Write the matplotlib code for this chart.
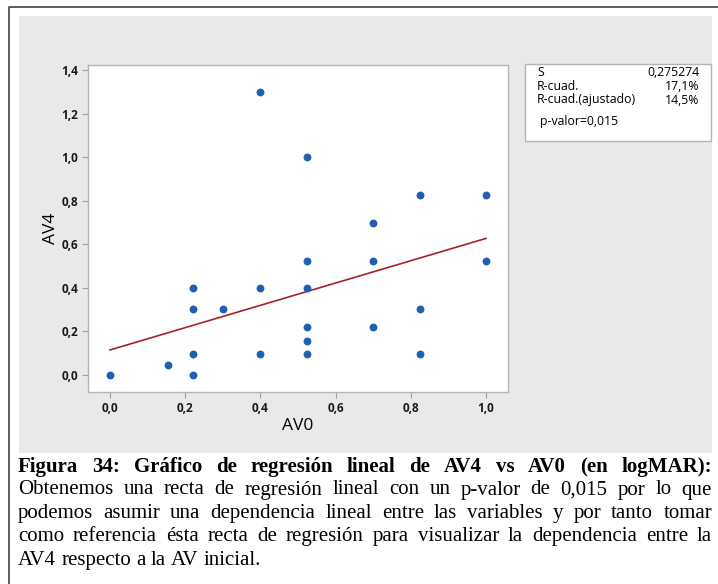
import numpy as np
import matplotlib.pyplot as plt
from matplotlib.patches import Rectangle
from matplotlib.lines import Line2D
from matplotlib.ticker import FuncFormatter

# puntos (AV0, AV4) en logMAR
av0 = [0.0, 0.155, 0.222, 0.222, 0.222, 0.222, 0.301, 0.398, 0.398, 0.398,
       0.523, 0.523, 0.523, 0.523, 0.523, 0.523, 0.699, 0.699, 0.699,
       0.824, 0.824, 0.824, 1.0, 1.0]
av4 = [0.0, 0.046, 0.0, 0.097, 0.301, 0.398, 0.301, 1.301, 0.398, 0.097,
       1.0, 0.523, 0.398, 0.222, 0.155, 0.097, 0.699, 0.523, 0.222,
       0.824, 0.301, 0.097, 0.824, 0.523]

# recta de regresion
intercept = 0.115
slope = 0.512
line_x = [0.0, 1.0]

stats_names = ['S', 'R-cuad.', 'R-cuad.(ajustado)']
stats_vals = ['0,275274', '17,1%', '14,5%']
pvalue_txt = 'p-valor=0,015'

xticks = [0.0, 0.2, 0.4, 0.6, 0.8, 1.0]
yticks = [0.0, 0.2, 0.4, 0.6, 0.8, 1.0, 1.2, 1.4]

caption_title = 'Figura 34: Gráfico de regresión lineal de AV4 vs AV0 (en logMAR):'
caption_lines = [
    'Obtenemos una recta de regresión lineal con un p-valor de 0,015 por lo que',
    'podemos asumir una dependencia lineal entre las variables y por tanto tomar',
    'como referencia ésta recta de regresión para visualizar la dependencia entre la',
    'AV4 respecto a la AV inicial.',
]

W, H = 718, 584
fig = plt.figure(figsize=(W / 100, H / 100), dpi=100)
fig.patch.set_facecolor('white')

def fx(px):
    return px / W

def fy(py):
    return 1 - py / H

# fondo gris de minitab
fig.patches.append(Rectangle((fx(19), fy(453)), fx(712) - fx(19), fy(16) - fy(453),
                             transform=fig.transFigure, facecolor='#e9e9e9',
                             edgecolor='none', zorder=-2))
# marco exterior de la pagina
fig.lines.append(Line2D([fx(9), fx(9), 1.0], [0.0, fy(7), fy(7)],
                        transform=fig.transFigure, color='#505050', lw=1.3))

ax = fig.add_axes([fx(88), fy(392), fx(508) - fx(88), fy(65) - fy(392)])
ax.set_zorder(2)
ax.set_facecolor('white')
ax.scatter(av0, av4, s=32, color='#1f5fad', zorder=3, linewidths=0)
lx = np.array(line_x)
ax.plot(lx, intercept + slope * lx, color='#a3222a', lw=1.2, zorder=2)

ax.set_xlim(-0.0585, 1.0585)
ax.set_ylim(-0.078, 1.423)
ax.set_xticks(xticks)
ax.set_yticks(yticks)
fmt = FuncFormatter(lambda v, p: f'{v:.1f}'.replace('.', ','))
ax.xaxis.set_major_formatter(fmt)
ax.yaxis.set_major_formatter(fmt)
for sp in ax.spines.values():
    sp.set_color('#b4b4b4')
    sp.set_linewidth(1.0)
ax.tick_params(direction='out', length=4, width=0.8, color='#a0a0a0',
               labelsize=8.5, labelcolor='#1a1a1a', pad=3)
for lab in ax.get_xticklabels() + ax.get_yticklabels():
    lab.set_fontfamily('Open Sans')
    lab.set_fontweight('bold')
ax.set_xlabel('AV0', fontsize=12.5, family='Open Sans', color='black', labelpad=2)
ax.set_ylabel('AV4', fontsize=12.5, family='Open Sans', color='black', labelpad=2)

# cuadro de estadisticos
fig.patches.append(Rectangle((fx(525), fy(141)), fx(711) - fx(525), fy(64) - fy(141),
                             transform=fig.transFigure, facecolor='white',
                             edgecolor='#b4b4b4', lw=1.0, zorder=1))
for i, (n, v) in enumerate(zip(stats_names, stats_vals)):
    yy = fy(72 + i * 14)
    fig.text(fx(537), yy, n, fontsize=8.8, family='Open Sans', va='center',
             ha='left', color='black')
    fig.text(fx(699), yy, v, fontsize=8.8, family='Open Sans', va='center',
             ha='right', color='black')
fig.text(fx(540), fy(121), pvalue_txt, fontsize=8.8, family='Open Sans',
         va='center', ha='left', color='black')

# pie de figura justificado
renderer = fig.canvas.get_renderer()

def put_line(text, ypx, bold=False, justify=True):
    words = text.split(' ')
    objs = [fig.text(0, fy(ypx), w, fontsize=15, family='Liberation Serif',
                     fontweight='bold' if bold else 'normal', va='center', ha='left')
            for w in words]
    widths = [o.get_window_extent(renderer).width for o in objs]
    x0, x1 = 18, 712
    if justify and len(words) > 1:
        gap = (x1 - x0 - sum(widths)) / (len(words) - 1)
    else:
        gap = 5.2
    x = x0
    for o, w in zip(objs, widths):
        o.set_x(fx(x))
        x += w + gap

put_line(caption_title, 467, bold=True)
for i, ln in enumerate(caption_lines):
    put_line(ln, 490 + i * 23.4, justify=(i < len(caption_lines) - 1))

fig.savefig('out.png', dpi=100)
